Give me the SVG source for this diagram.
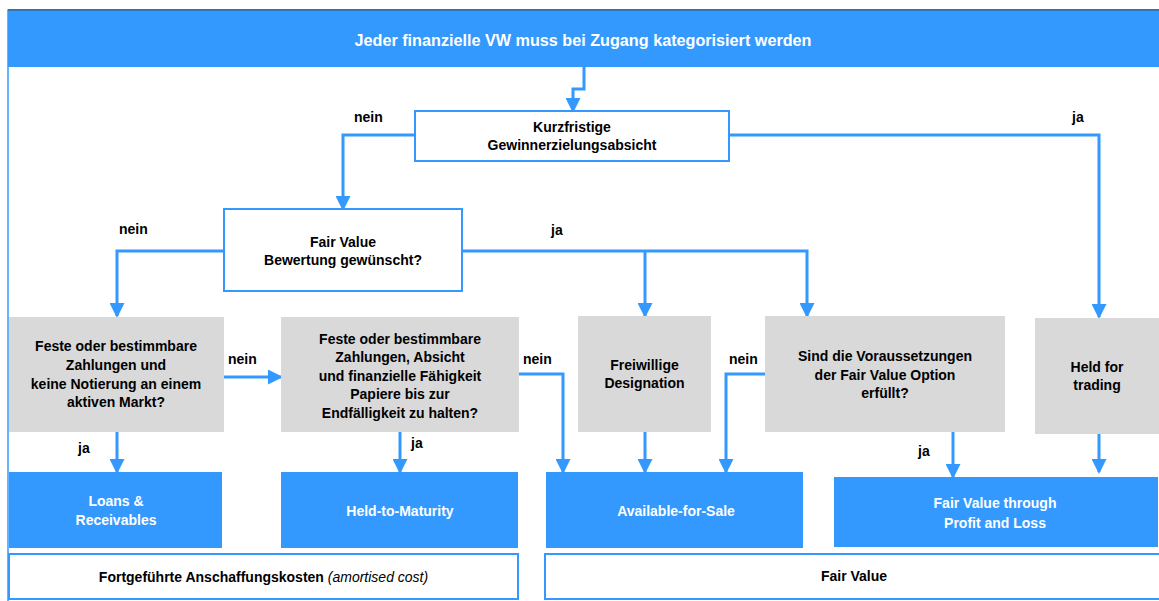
<svg xmlns="http://www.w3.org/2000/svg" width="1159" height="601" viewBox="0 0 1159 601">
<style>
.t{font-family:"Liberation Sans",Arial,sans-serif;font-size:14px;font-weight:bold;fill:#000;text-anchor:middle}
.w{fill:#fff}
.lbl{font-family:"Liberation Sans",Arial,sans-serif;font-size:14px;font-weight:bold;fill:#000}
.q{fill:#fff;stroke:#3399ff;stroke-width:2}
.g{fill:#d9d9d9}
.b{fill:#3399ff}
.c{fill:none;stroke:#3399ff;stroke-width:3}
</style>
<defs>
<marker id="ah" markerUnits="userSpaceOnUse" markerWidth="15" markerHeight="15" refX="13" refY="7.5" orient="auto">
<path d="M0,0 L15,7.5 L0,15 Z" fill="#3399ff"/>
</marker>
</defs>
<rect width="1159" height="601" fill="#fff"/>
<rect x="8" y="10" width="1160" height="600" fill="none" stroke="#3399ff" stroke-width="1.5"/>
<g id="banner">
<rect x="8" y="10" width="1160" height="57" fill="#3399ff"/>
<line x1="8" y1="10" x2="1159" y2="10" stroke="#2a78b8" stroke-width="2"/>
<text x="583" y="46" class="t w" style="font-size:16.2px">Jeder finanzielle VW muss bei Zugang kategorisiert werden</text>
</g>
<g id="connectors">
<path class="c" d="M584,67 V89 H573 V111" marker-end="url(#ah)"/>
<path class="c" d="M415,135 H343 V209" marker-end="url(#ah)"/>
<path class="c" d="M729,135 H1099 V317" marker-end="url(#ah)"/>
<path class="c" d="M224,251 H117 V316" marker-end="url(#ah)"/>
<path class="c" d="M462,251 H807 V316" marker-end="url(#ah)"/>
<path class="c" d="M645,251 V316" marker-end="url(#ah)"/>
<path class="c" d="M224,377 H281" marker-end="url(#ah)"/>
<path class="c" d="M519,374 H563 V472" marker-end="url(#ah)"/>
<path class="c" d="M765,374 H726 V472" marker-end="url(#ah)"/>
<path class="c" d="M645,432 V472" marker-end="url(#ah)"/>
<path class="c" d="M117,432 V472" marker-end="url(#ah)"/>
<path class="c" d="M400,432 V472" marker-end="url(#ah)"/>
<path class="c" d="M953,432 V477" marker-end="url(#ah)"/>
<path class="c" d="M1099,434 V472" marker-end="url(#ah)"/>
<text class="lbl" x="354" y="121.5">nein</text>
<text class="lbl" x="1072" y="121.5">ja</text>
<text class="lbl" x="119" y="234">nein</text>
<text class="lbl" x="551" y="234.5">ja</text>
<text class="lbl" x="228" y="364">nein</text>
<text class="lbl" x="523" y="364">nein</text>
<text class="lbl" x="729" y="363.5">nein</text>
<text class="lbl" x="78" y="453">ja</text>
<text class="lbl" x="411" y="448">ja</text>
<text class="lbl" x="918" y="456">ja</text>
</g>
<g id="kurzfristig">
<rect class="q" x="415" y="111" width="314" height="50"/>
<text class="t" x="572" y="132">Kurzfristige</text>
<text class="t" x="572" y="150">Gewinnerzielungsabsicht</text>
</g>
<g id="fairvalue-q">
<rect class="q" x="224" y="209" width="238" height="82"/>
<text class="t" x="343" y="246.5">Fair Value</text>
<text class="t" x="343" y="265">Bewertung gewünscht?</text>
</g>
<g id="q-loans">
<rect class="g" x="9" y="317" width="215" height="115"/>
<text class="t" x="116" y="351">Feste oder bestimmbare</text>
<text class="t" x="116" y="370">Zahlungen und</text>
<text class="t" x="116" y="388.5">keine Notierung an einem</text>
<text class="t" x="116" y="407">aktiven Markt?</text>
</g>
<g id="q-htm">
<rect class="g" x="281" y="317" width="238" height="115"/>
<text class="t" x="400" y="343.5">Feste oder bestimmbare</text>
<text class="t" x="400" y="362">Zahlungen, Absicht</text>
<text class="t" x="400" y="380.7">und finanzielle Fähigkeit</text>
<text class="t" x="400" y="399.3">Papiere bis zur</text>
<text class="t" x="400" y="418">Endfälligkeit zu halten?</text>
</g>
<g id="q-designation">
<rect class="g" x="578" y="316" width="133" height="116"/>
<text class="t" x="644.5" y="369.5">Freiwillige</text>
<text class="t" x="644.5" y="388">Designation</text>
</g>
<g id="q-fvo">
<rect class="g" x="765" y="316" width="240" height="116"/>
<text class="t" x="885" y="361">Sind die Voraussetzungen</text>
<text class="t" x="885" y="379.5">der Fair Value Option</text>
<text class="t" x="885" y="398">erfüllt?</text>
</g>
<g id="q-trading">
<rect class="g" x="1035" y="318" width="130" height="116"/>
<text class="t" x="1097" y="371.5">Held for</text>
<text class="t" x="1097" y="390">trading</text>
</g>
<g id="loans">
<rect class="b" x="9" y="472" width="213" height="76"/>
<text class="t w" x="116" y="506">Loans &amp;</text>
<text class="t w" x="116" y="524.5">Receivables</text>
</g>
<g id="htm">
<rect class="b" x="281" y="472" width="237" height="76"/>
<text class="t w" x="400" y="516">Held-to-Maturity</text>
</g>
<g id="afs">
<rect class="b" x="546" y="472" width="257" height="76"/>
<text class="t w" x="676" y="516">Available-for-Sale</text>
</g>
<g id="fvtpl">
<rect class="b" x="834" y="477" width="324" height="70"/>
<text class="t w" x="995" y="507.5">Fair Value through</text>
<text class="t w" x="995" y="528">Profit and Loss</text>
</g>
<g id="amortised">
<rect class="q" x="9" y="554" width="509" height="45"/>
<text class="t" x="263.5" y="582">Fortgeführte Anschaffungskosten <tspan style="font-weight:normal;font-style:italic">(amortised cost)</tspan></text>
</g>
<g id="fairvalue">
<rect class="q" x="545" y="554" width="620" height="45"/>
<text class="t" x="854" y="581">Fair Value</text>
</g>
</svg>
